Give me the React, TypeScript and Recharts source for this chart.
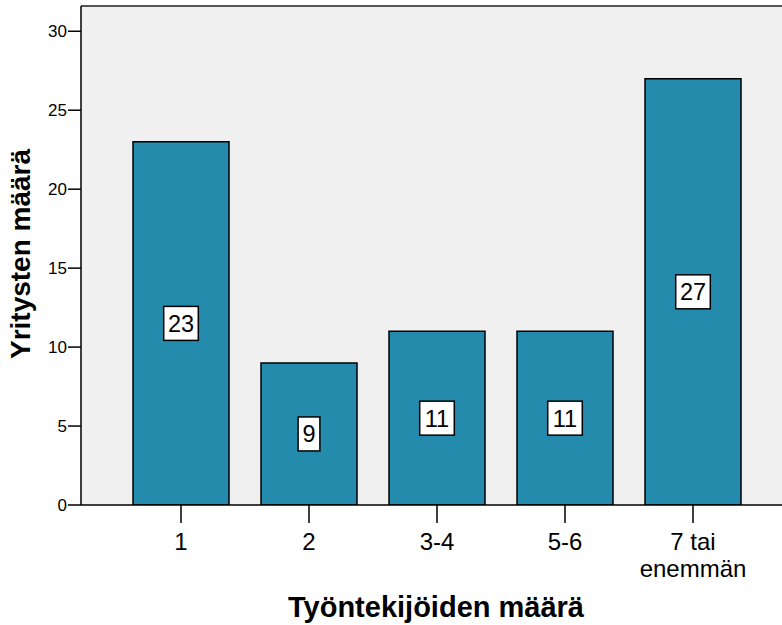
import { BarChart, Bar, XAxis, YAxis, CartesianGrid, ReferenceLine, LabelList } from "recharts";

// Company counts by number of employees
const categories = ["1", "2", "3-4", "5-6", "7 tai\nenemmän"];
const companyCounts = [23, 9, 11, 11, 27];
const yTicks = [0, 5, 10, 15, 20, 25, 30];
const yMax = 31.6;

const xTitle = "Työntekijöiden määrä";
const yTitle = "Yritysten määrä";

const data = categories.map((name, i) => ({ name, count: companyCounts[i] }));

const FONT = "'Liberation Sans', Arial, sans-serif";
const BAR_FILL = "#248bac";

interface TickProps {
  x?: number;
  y?: number;
  payload?: { value: string };
}

const CategoryTick = ({ x = 0, y = 0, payload }: TickProps) => {
  const lines = String(payload?.value ?? "").split("\n");
  return (
    <text x={x} y={y} textAnchor="middle" fontFamily={FONT} fontSize={24} fill="#000">
      {lines.map((line, i) => (
        <tspan key={i} x={x} dy={i === 0 ? 27 : 27}>
          {line}
        </tspan>
      ))}
    </text>
  );
};

interface ValueLabelProps {
  x?: number | string;
  y?: number | string;
  width?: number | string;
  height?: number | string;
  value?: number | string;
}

// White boxed count in the middle of each bar
const ValueBox = ({ x, y, width, height, value }: ValueLabelProps) => {
  const cx = Number(x) + Number(width) / 2;
  const cy = Number(y) + Number(height) / 2;
  const text = String(value);
  const w = text.length * 12.8 + 9;
  const h = 34;
  return (
    <g>
      <rect x={cx - w / 2} y={cy - h / 2} width={w} height={h} fill="#fff" stroke="#000" strokeWidth={1.5} />
      <text x={cx} y={cy} dy="0.36em" textAnchor="middle" fontFamily={FONT} fontSize={23.5} fill="#000">
        {text}
      </text>
    </g>
  );
};

const App = () => {
  return (
    <div style={{ position: "absolute", left: 0, top: 0, width: 782, height: 625, background: "#fff" }}>
      <BarChart
        width={782}
        height={625}
        data={data}
        margin={{ top: 6, right: 0, left: 0, bottom: 0 }}
        barCategoryGap={32}
      >
        <CartesianGrid fill="#f0f0f0" horizontal={false} vertical={false} />
        <XAxis
          dataKey="name"
          height={120}
          padding={{ left: 36, right: 25 }}
          tickSize={18}
          tickMargin={0}
          tickLine={{ stroke: "#000", strokeWidth: 1.5 }}
          axisLine={{ stroke: "#000", strokeWidth: 1.5 }}
          tick={<CategoryTick />}
          interval={0}
        />
        <YAxis
          width={81}
          domain={[0, yMax]}
          ticks={yTicks}
          tickSize={13}
          tickMargin={1}
          tickLine={{ stroke: "#000", strokeWidth: 1.5 }}
          axisLine={{ stroke: "#000", strokeWidth: 1.5 }}
          tick={{ fontFamily: FONT, fontSize: 17, fill: "#000" }}
          allowDataOverflow
        />
        <ReferenceLine y={yMax} stroke="#555" strokeWidth={2} />
        <Bar
          dataKey="count"
          fill={BAR_FILL}
          stroke="#000"
          strokeWidth={1.5}
          barSize={96}
          isAnimationActive={false}
        >
          <LabelList dataKey="count" content={<ValueBox />} />
        </Bar>
      </BarChart>
      <svg width={782} height={625} style={{ position: "absolute", left: 0, top: 0, pointerEvents: "none" }}>
        <text x={436} y={617} textAnchor="middle" fontFamily={FONT} fontSize={29} fontWeight="bold" fill="#000">
          {xTitle}
        </text>
        <text
          x={30}
          y={254}
          transform="rotate(-90 30 254)"
          textAnchor="middle"
          fontFamily={FONT}
          fontSize={28}
          fontWeight="bold"
          fill="#000"
        >
          {yTitle}
        </text>
      </svg>
    </div>
  );
};

export default App;
